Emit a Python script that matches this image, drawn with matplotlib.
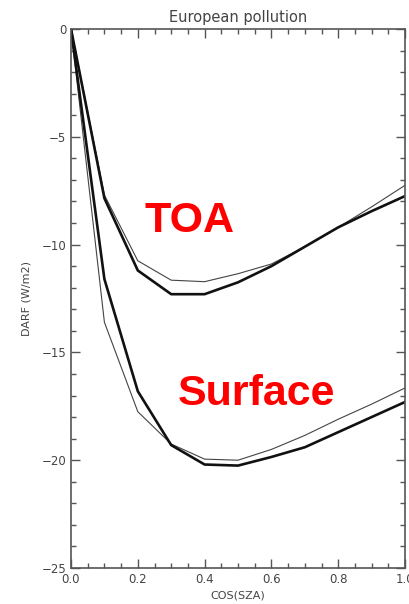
import matplotlib
matplotlib.use("Agg")
import matplotlib.pyplot as plt
from matplotlib.ticker import MultipleLocator

cos_sza = [0.0, 0.1, 0.2, 0.3, 0.4, 0.5, 0.6, 0.7, 0.8, 0.9, 1.0]
toa_thick = [0.0, -7.85, -11.2, -12.3, -12.3, -11.75, -11.0, -10.1, -9.2, -8.45, -7.75]
toa_thin = [0.0, -7.7, -10.75, -11.65, -11.72, -11.35, -10.9, -10.1, -9.2, -8.25, -7.25]
sfc_thick = [0.0, -11.6, -16.8, -19.3, -20.2, -20.25, -19.85, -19.4, -18.7, -18.0, -17.3]
sfc_thin = [0.0, -13.6, -17.75, -19.25, -19.95, -20.0, -19.5, -18.85, -18.1, -17.4, -16.65]

xticks = [0.0, 0.2, 0.4, 0.6, 0.8, 1.0]
xticklabels = ["0.0", "0.2", "0.4", "0.6", "0.8", "1.0"]
yticks = [0, -5, -10, -15, -20, -25]
yticklabels = ["0", "\u22125", "\u221210", "\u221215", "\u221220", "\u221225"]

axcol = "#555555"
fig = plt.figure(figsize=(4.09, 6.04), dpi=100)
ax = fig.add_axes([71/409, 36/604, 334/409, 539/604])

ax.plot(cos_sza, toa_thin, color="#444444", lw=0.8)
ax.plot(cos_sza, toa_thick, color="#111111", lw=1.9)
ax.plot(cos_sza, sfc_thin, color="#444444", lw=0.8)
ax.plot(cos_sza, sfc_thick, color="#111111", lw=1.9)

ax.set_xlim(0, 1)
ax.set_ylim(-25, 0)
ax.set_xticks(xticks)
ax.set_xticklabels(xticklabels)
ax.set_yticks(yticks)
ax.set_yticklabels(yticklabels)
ax.xaxis.set_minor_locator(MultipleLocator(0.05))
ax.yaxis.set_minor_locator(MultipleLocator(1))
ax.tick_params(which="both", direction="in", top=True, right=True, colors=axcol,
               labelcolor="#444444", labelsize=8.5, width=1.0)
ax.tick_params(which="major", length=6.7)
ax.tick_params(which="minor", length=3.3)
for s in ax.spines.values():
    s.set_color(axcol)
    s.set_linewidth(1.2)

ax.set_title("European pollution", fontsize=10.5, color="#444444", pad=5)
ax.set_xlabel("COS(SZA)", fontsize=8, color="#444444", labelpad=3)
ax.set_ylabel("DARF (W/m2)", fontsize=8, color="#444444", labelpad=7)

ax.text(0.355, -8.9, "TOA", color="#ff0000", fontsize=31, fontweight="bold",
        family="Liberation Sans", ha="center", va="center")
ax.text(0.554, -16.95, "Surface", color="#ff0000", fontsize=31, fontweight="bold",
        family="Liberation Sans", ha="center", va="center")

fig.savefig("out.png", dpi=100)
